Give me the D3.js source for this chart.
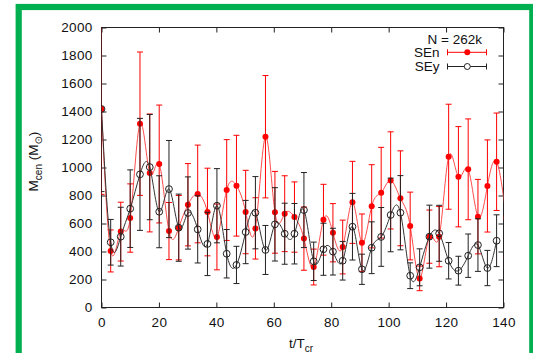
<!DOCTYPE html>
<html>
<head>
<meta charset="utf-8">
<script src="https://cdn.jsdelivr.net/npm/d3@7"></script>
<style>
  body { margin: 0; background: #fff; }
  text { font-family: "Liberation Sans", Arial, sans-serif; }
</style>
</head>
<body>
<svg width="533" height="353"></svg>
<script>
// sample times (t / T_cr)
const times = [0, 3.2, 6.7, 10.0, 13.4, 16.8, 20.1, 23.5, 26.9, 30.1, 33.5, 36.9, 40.2, 43.6,
  47.0, 50.2, 53.6, 57.1, 60.4, 63.8, 67.2, 70.5, 73.9, 77.3, 80.6, 84.0, 87.4, 90.7,
  94.1, 97.4, 100.7, 104.1, 107.5, 110.8, 114.2, 117.6, 120.9, 124.3, 127.7, 131.1, 134.4, 137.6];
// SEn has one more sample just past the right edge
const senTimes = times.concat([141.0]);

const senValues = [1418, 404, 542, 639, 1313, 961, 1025, 546, 570, 734, 811, 682, 504, 839,
  870, 682, 565, 1220, 680, 670, 646, 492, 289, 627, 534, 432, 751, 463,
  723, 820, 908, 780, 582, 208, 506, 506, 1077, 934, 987, 649, 868, 1041, 640];
const senErrors = [610, 150, 210, 244, 512, 421, 421, 204, 230, 294, 349, 313, 235, 360,
  360, 298, 219, 437, 292, 271, 251, 226, 128, 253, 208, 192, 293, 205,
  297, 324, 347, 339, 242, 88, 190, 215, 375, 358, 360, 266, 329, 348, 280];

const seyValues = [1418, 466, 506, 706, 951, 1003, 684, 846, 570, 675, 558, 454, 727, 384,
  304, 539, 677, 411, 594, 527, 527, 696, 330, 416, 399, 334, 577, 273,
  427, 504, 661, 677, 227, 287, 506, 530, 334, 263, 370, 446, 282, 477];
const seyErrors = [590, 163, 210, 277, 400, 376, 257, 347, 240, 258, 240, 226, 265, 173,
  133, 226, 258, 175, 262, 218, 216, 268, 137, 186, 167, 138, 238, 108,
  185, 210, 263, 265, 92, 132, 225, 200, 130, 103, 155, 188, 126, 185];

const xTicks = [0, 20, 40, 60, 80, 100, 120, 140];
const yTicks = [0, 200, 400, 600, 800, 1000, 1200, 1400, 1600, 1800, 2000];

const svg = d3.select("svg");
const pLeft = 101.5, pRight = 503.5, pTop = 27.5, pBottom = 307.5;

const x = d3.scaleLinear().domain([0, 140]).range([pLeft, pRight]);
const y = d3.scaleLinear().domain([0, 2000]).range([pBottom, pTop]);

// green frame
svg.append("rect")
  .attr("x", 18.7).attr("y", 7)
  .attr("width", 513.6).attr("height", 400)
  .attr("fill", "none")
  .attr("stroke", "#00b050")
  .attr("stroke-width", 6.2);

svg.append("defs").append("clipPath").attr("id", "plot")
  .append("rect")
  .attr("x", pLeft).attr("y", pTop)
  .attr("width", pRight - pLeft).attr("height", pBottom - pTop);

// axes, ticks pointing inward
const fontSize = 13.5;
const fmt = d3.format("d");
svg.append("g")
  .attr("transform", `translate(0,${pBottom})`)
  .call(d3.axisBottom(x).tickValues(xTicks).tickFormat(fmt).tickSize(-5).tickPadding(10))
  .call(g => g.select(".domain").remove());
svg.append("g")
  .attr("transform", `translate(0,${pTop})`)
  .call(d3.axisTop(x).tickValues(xTicks).tickSize(-5).tickFormat(""))
  .call(g => g.select(".domain").remove());
svg.append("g")
  .attr("transform", `translate(${pLeft},0)`)
  .call(d3.axisLeft(y).tickValues(yTicks).tickFormat(fmt).tickSize(-5).tickPadding(9))
  .call(g => g.select(".domain").remove());
svg.append("g")
  .attr("transform", `translate(${pRight},0)`)
  .call(d3.axisRight(y).tickValues(yTicks).tickSize(-5).tickFormat(""))
  .call(g => g.select(".domain").remove());

svg.selectAll(".tick line").attr("stroke", "#222");
svg.selectAll(".tick text")
  .attr("fill", "#111")
  .style("font-size", fontSize + "px")
  .style("font-family", "'Liberation Sans', Arial, sans-serif")
  .style("letter-spacing", "0.3px");

svg.append("rect")
  .attr("x", pLeft).attr("y", pTop)
  .attr("width", pRight - pLeft).attr("height", pBottom - pTop)
  .attr("fill", "none").attr("stroke", "#222").attr("stroke-width", 1);

// axis titles
const xl = svg.append("text")
  .attr("x", 289).attr("y", 347.5)
  .style("font-size", fontSize + "px").attr("fill", "#111");
xl.append("tspan").text("t/T");
xl.append("tspan").attr("dy", 4).style("font-size", "10px").text("cr");

const yl = svg.append("text")
  .attr("transform", "translate(38,161.5) rotate(-90)")
  .attr("text-anchor", "middle")
  .style("font-size", fontSize + "px").attr("fill", "#111");
yl.append("tspan").text("M");
yl.append("tspan").attr("dy", 4).style("font-size", "10px").text("cen");
yl.append("tspan").attr("dy", -4).text(" (M");
yl.append("tspan").attr("dy", 4).style("font-size", "10px").style("font-family", "'DejaVu Sans'").text("\u2299");
yl.append("tspan").attr("dy", -4).text(")");

const plot = svg.append("g").attr("clip-path", "url(#plot)");

function drawSeries(ts, vals, errs, lineColor, barColor, filled) {
  const pts = ts.map((t, i) => ({t: t, v: vals[i], e: errs[i]}));
  const g = plot.append("g");

  g.append("path")
    .datum(pts)
    .attr("fill", "none")
    .attr("stroke", lineColor)
    .attr("stroke-width", 1)
    .attr("d", d3.line().x(d => x(d.t)).y(d => y(d.v)).curve(d3.curveNatural));

  const bars = g.selectAll(".bar").data(pts).enter().append("g")
    .attr("stroke", barColor).attr("stroke-width", 1);
  bars.append("line")
    .attr("x1", d => x(d.t)).attr("x2", d => x(d.t))
    .attr("y1", d => y(d.v - d.e)).attr("y2", d => y(d.v + d.e));
  bars.append("line")
    .attr("x1", d => x(d.t) - 3).attr("x2", d => x(d.t) + 3)
    .attr("y1", d => y(d.v - d.e)).attr("y2", d => y(d.v - d.e));
  bars.append("line")
    .attr("x1", d => x(d.t) - 3).attr("x2", d => x(d.t) + 3)
    .attr("y1", d => y(d.v + d.e)).attr("y2", d => y(d.v + d.e));

  g.selectAll(".pt").data(pts).enter().append("circle")
    .attr("cx", d => x(d.t)).attr("cy", d => y(d.v))
    .attr("r", filled ? 3 : 3.4)
    .attr("fill", filled ? barColor : "none")
    .attr("stroke", filled ? "none" : barColor)
    .attr("stroke-width", 1);
}

drawSeries(senTimes, senValues, senErrors, "#ff4a4a", "#ff0000", true);
drawSeries(times, seyValues, seyErrors, "#333", "#222", false);

// legend
const leg = svg.append("g").style("font-size", fontSize + "px").attr("fill", "#111");
leg.append("text").attr("x", 482).attr("y", 44).attr("text-anchor", "end").text("N = 262k");
const entries = [
  {label: "SEn", y: 52.3, color: "#ff0000", filled: true},
  {label: "SEy", y: 66.5, color: "#222", filled: false}
];
entries.forEach(en => {
  leg.append("text").attr("x", 439.5).attr("y", en.y + 4.5).attr("text-anchor", "end").text(en.label);
  const lg = leg.append("g").attr("stroke", en.color).attr("stroke-width", 1);
  lg.append("line").attr("x1", 447.5).attr("x2", 486.5).attr("y1", en.y).attr("y2", en.y);
  lg.append("line").attr("x1", 447.5).attr("x2", 447.5).attr("y1", en.y - 3).attr("y2", en.y + 3);
  lg.append("line").attr("x1", 486.5).attr("x2", 486.5).attr("y1", en.y - 3).attr("y2", en.y + 3);
  leg.append("circle").attr("cx", 467.3).attr("cy", en.y).attr("r", 3)
    .attr("fill", en.filled ? en.color : "#fff")
    .attr("stroke", en.filled ? "none" : en.color);
});
</script>
</body>
</html>
